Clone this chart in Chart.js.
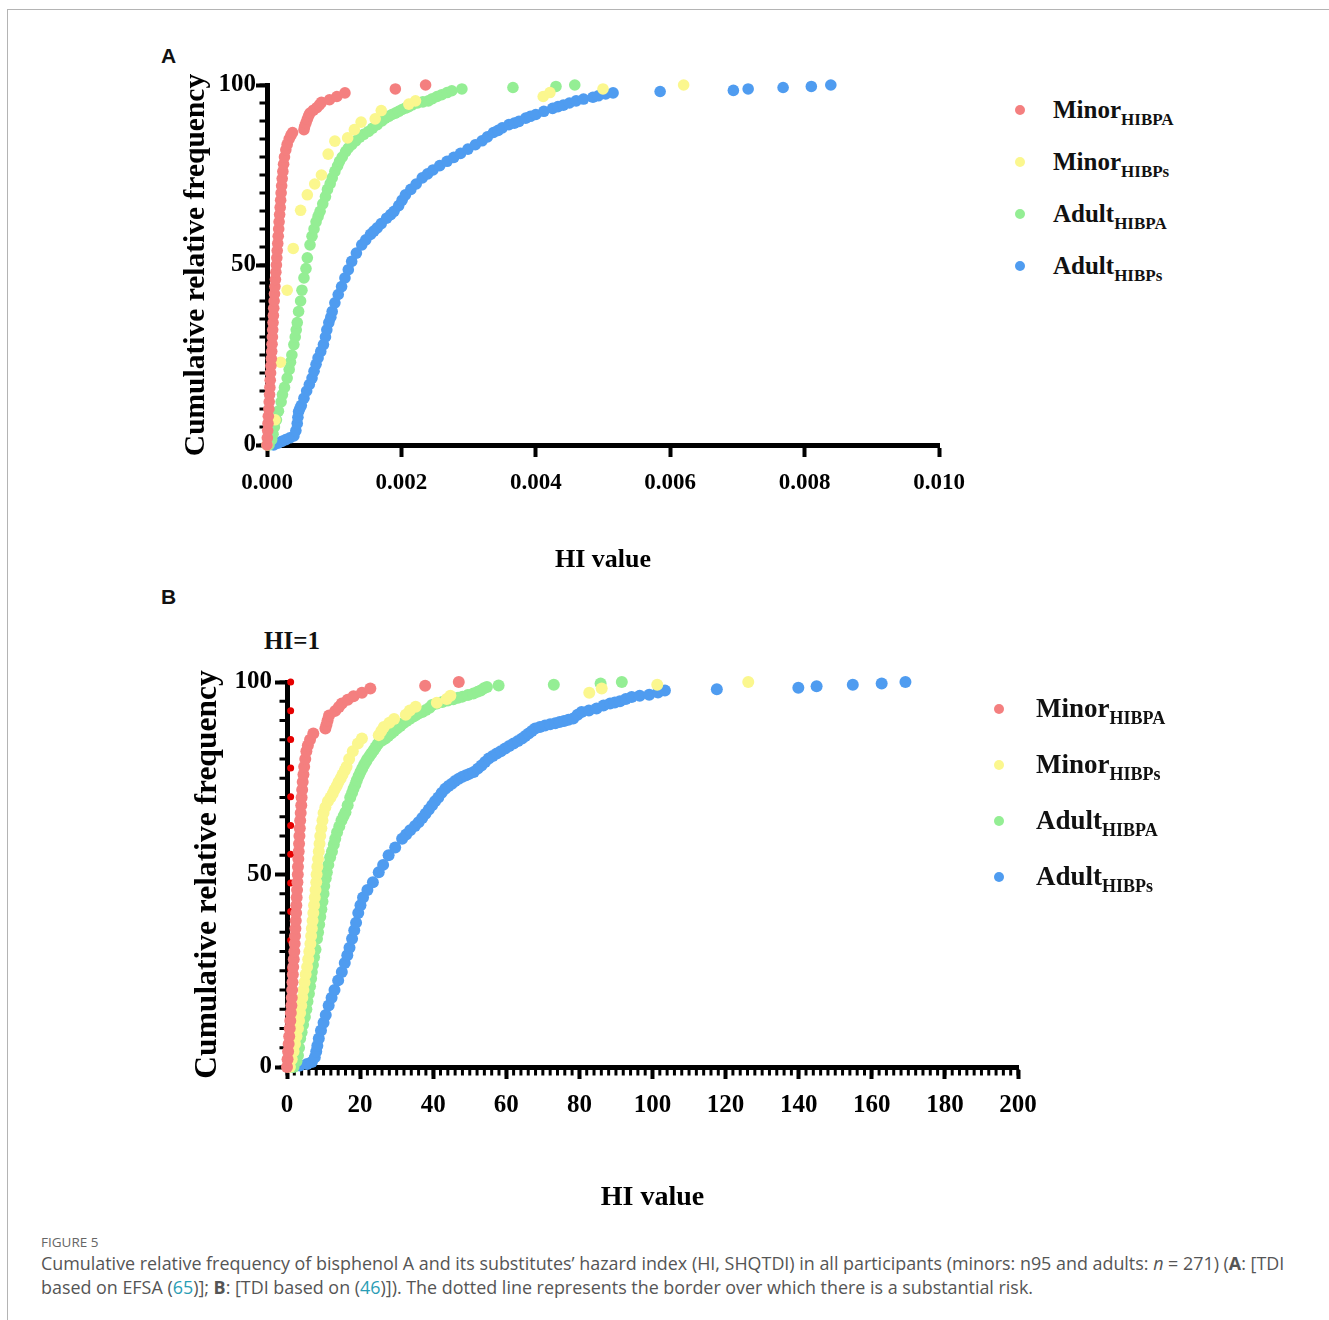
<!DOCTYPE html>
<html>
<head>
<meta charset="utf-8">
<script src="https://cdn.jsdelivr.net/npm/chart.js@4.4.1/dist/chart.umd.min.js"></script>
<style>
  body { margin: 0; background: #fff; width: 1329px; height: 1320px; position: relative; overflow: hidden; }
  .frame { position: absolute; left: 7px; top: 9px; width: 1340px; height: 1330px; border-top: 1px solid #b4b4b4; border-left: 1px solid #b4b4b4; }
  canvas { position: absolute; }
  .panel { position: absolute; font: bold 21px 'Liberation Sans', Arial, sans-serif; color: #111; }
  .serif { position: absolute; font-family: 'Liberation Serif', 'Times New Roman', serif; font-weight: bold; color: #111; white-space: nowrap; line-height: 1; }
  .dot { position: absolute; border-radius: 50%; }
  .sub { position: relative; }
  .capfig { position: absolute; left: 41px; top: 1233px; font: 13.5px 'Open Sans', sans-serif; color: #666; }
  .cap { position: absolute; left: 41px; top: 1251px; font: 17.9px/24px 'Open Sans', sans-serif; color: #555; white-space: nowrap; letter-spacing: 0; }
  .cap .ref { color: #2a9db5; }
</style>
</head>
<body>
<div class="frame"></div>
<div class="panel" style="left:161px;top:44px;">A</div>
<div class="panel" style="left:161px;top:585px;">B</div>
<div class="serif" style="left:264px;top:628px;font-size:25px;">HI=1</div>
<canvas id="chartA" width="830" height="530" style="left:150px;top:60px;"></canvas>
<canvas id="chartB" width="900" height="600" style="left:150px;top:620px;"></canvas>
<div id="legendA"></div>
<div id="legendB"></div>
<div class="capfig">FIGURE 5</div>
<div class="cap">Cumulative relative frequency of bisphenol A and its substitutes’ hazard index (HI, SHQTDI) in all participants (minors: n95 and adults: <i>n</i> = 271) (<b>A</b>: [TDI<br>based on EFSA (<span class="ref">65</span>)]; <b>B</b>: [TDI based on (<span class="ref">46</span>)]). The dotted line represents the border over which there is a substantial risk.</div>
<script>
const seriesNames = ['Minor', 'Minor', 'Adult', 'Adult'];
const seriesSubs = ['HIBPA', 'HIBPs', 'HIBPA', 'HIBPs'];
const seriesColors = ['#f47f7f', '#fbf78e', '#94ee94', '#4f9cf0'];

const xTicksA = [0, 0.002, 0.004, 0.006, 0.008, 0.010];
const xTicksB = [0, 20, 40, 60, 80, 100, 120, 140, 160, 180, 200];
const yTicks = [0, 50, 100];
const hiLimit = 1;

// panel A: HI values (x) and cumulative relative frequency (y)
const minorHibpaA = [[0,0],[0.000005,2],[0.00001,4],[0.000015,6],[0.00002,8],[0.000028,10],[0.000033,12],[0.000038,14],[0.000043,16],[0.000048,18],[0.000053,20],[0.000058,22],[0.000064,24],[0.00007,26],[0.000075,28],[0.00008,30],[0.000085,32],[0.00009,34],[0.000095,36],[0.0001,38],[0.000106,40],[0.000112,42],[0.000118,44],[0.000125,46],[0.000132,48],[0.00014,50],[0.000146,52],[0.000152,54],[0.00016,56],[0.000167,58],[0.000174,60],[0.00018,62],[0.000188,64],[0.000196,66],[0.000203,68],[0.00021,70],[0.000218,72],[0.000226,74],[0.000236,76],[0.000247,78],[0.00026,80],[0.00028,82],[0.0003,83.5],[0.00033,85],[0.000355,86],[0.00038,86.8],[0.00055,87.6],[0.00056,88.5],[0.00058,89.5],[0.0006,90.5],[0.00062,91.5],[0.00064,92.2],[0.00069,93],[0.00074,93.7],[0.00078,94.5],[0.00081,95.2],[0.00093,95.9],[0.00104,96.8],[0.00116,97.8],[0.00191,98.9],[0.00236,100]];
const minorHibpsA = [[0,0],[0.00012,7],[0.0002,23],[0.0003,43],[0.00039,54.6],[0.0005,65.2],[0.0006,69.5],[0.00071,72.5],[0.00081,75],[0.00091,80.8],[0.00101,84.4],[0.0012,85.3],[0.0013,87.6],[0.0014,89.7],[0.00161,90.6],[0.0017,92.9],[0.00211,94.7],[0.00221,95.6],[0.00411,96.8],[0.00421,97.9],[0.005,98.9],[0.0062,100]];
const adultHibpaA = [[0.00003,0],[0.00007,1.5],[0.00009,3],[0.00011,5],[0.00014,7],[0.00017,9.4],[0.00021,12],[0.00023,14],[0.00026,16],[0.0003,18.6],[0.00033,21],[0.00035,23],[0.00037,25],[0.0004,27.9],[0.00042,30],[0.000435,32],[0.00045,34],[0.00047,37.1],[0.0005,40],[0.00052,43],[0.00055,46.4],[0.00058,49],[0.0006,52],[0.00064,55.6],[0.00067,58],[0.0007,60],[0.00073,62],[0.00076,63.5],[0.00079,64.9],[0.00083,67],[0.00087,69],[0.0009,71],[0.00094,72.6],[0.00097,74.2],[0.00101,76],[0.00105,77.5],[0.00108,78.8],[0.00112,80],[0.00117,81.5],[0.00121,82.5],[0.00126,83.4],[0.00132,84.5],[0.00138,85.5],[0.00144,86.3],[0.00151,87.1],[0.00157,88],[0.00164,89],[0.00171,90],[0.00176,90.8],[0.00181,91.3],[0.00186,91.8],[0.00191,92.2],[0.00196,92.7],[0.00201,93.2],[0.00206,93.6],[0.00211,94],[0.00216,94.5],[0.00224,95],[0.00232,95.3],[0.0024,95.6],[0.00246,96.2],[0.00253,96.8],[0.0026,97.3],[0.00268,97.9],[0.00275,98.4],[0.0029,98.9],[0.00366,99.3],[0.0043,99.6],[0.00458,100]];
const adultHibpsA = [[0.0001,0],[0.00016,0.5],[0.00022,1],[0.00028,1.5],[0.00034,2],[0.0004,2.5],[0.00043,4],[0.00045,6],[0.00046,7.7],[0.00047,9.3],[0.00049,10.2],[0.00051,11],[0.00055,13],[0.00059,15],[0.00063,16.8],[0.00067,18.6],[0.0007,20.5],[0.00073,22.4],[0.00076,24.2],[0.0008,26],[0.00084,27.9],[0.00087,30],[0.00089,32],[0.00092,34],[0.00095,35.5],[0.00097,37.1],[0.00101,39.5],[0.00106,41.8],[0.00111,44],[0.00116,46.4],[0.00121,48.7],[0.00126,51],[0.00133,53.3],[0.00141,55.6],[0.00147,57],[0.00154,58.5],[0.00159,59.4],[0.00164,60.3],[0.0017,61.5],[0.00178,63],[0.00184,64],[0.00189,64.9],[0.00196,66.5],[0.00201,68],[0.00206,69.5],[0.00214,71],[0.00222,72.5],[0.00231,74.2],[0.00239,75.3],[0.00247,76.4],[0.00257,77.6],[0.00268,78.8],[0.00278,79.9],[0.00288,81],[0.00299,82.2],[0.0031,83.4],[0.0032,84.5],[0.00328,85.6],[0.00337,86.8],[0.00344,87.4],[0.0035,88.1],[0.0036,89],[0.00368,89.4],[0.00375,89.9],[0.00385,90.8],[0.00392,91.3],[0.004,91.8],[0.00412,92.7],[0.00425,93.5],[0.00433,94],[0.00441,94.4],[0.0045,95],[0.0046,95.6],[0.00471,96.1],[0.00485,96.6],[0.00493,97],[0.00504,97.5],[0.00515,97.8],[0.00585,98.2],[0.00694,98.5],[0.00716,98.9],[0.00768,99.3],[0.0081,99.6],[0.00839,100]];

// panel B
const minorHibpaB = [[0,0],[0.15,2],[0.3,4],[0.45,6],[0.6,8],[0.75,10],[0.9,12],[1.05,14],[1.2,16],[1.3,18],[1.4,20],[1.5,22],[1.6,24],[1.7,26],[1.85,28],[2,30],[2.1,32],[2.2,34],[2.3,36],[2.4,38],[2.5,40],[2.55,42],[2.65,44],[2.75,46],[2.85,48],[2.95,50],[3,52],[3.1,54],[3.2,56],[3.3,58],[3.4,60],[3.5,62],[3.6,64],[3.75,66],[3.9,68],[4,70],[4.15,72],[4.3,74],[4.5,76],[4.7,78],[5,80],[5.3,82],[5.7,83.5],[6.3,85],[7.2,86.6],[10.5,87.9],[10.8,88.9],[11.1,90],[11.5,91.3],[13.2,92.5],[14.2,93.5],[15,94.4],[16.6,95.4],[18.2,96.3],[20.5,97.2],[22.8,98.3],[37.8,99],[47,100]];
const minorHibpsB = [[0.8,0],[1.3,2],[1.8,4],[2.2,6],[2.6,8],[3,10],[3.3,12],[3.6,14],[3.9,16],[4.2,18],[4.5,20],[4.8,22],[5.1,24],[5.5,26],[5.8,28],[6.1,30],[6.4,32],[6.6,34],[6.8,36],[7,38],[7.2,40],[7.4,42],[7.6,44],[7.8,46],[8,48],[8.1,50],[8.3,52],[8.5,54],[8.7,56],[8.9,58],[9.1,60],[9.4,62],[9.7,64],[10,66],[10.5,67.5],[11.2,69],[11.9,70],[12.5,71],[13,72],[13.6,73],[14.1,74],[14.7,75],[15.2,76],[15.8,77],[16.3,78],[17,80],[18,82],[19.4,84],[20.5,85.3],[25.1,86.2],[25.8,87.3],[26.5,88.3],[28,89.4],[29.3,90.4],[32.5,91.5],[33.6,92.6],[35.2,93.6],[41,94.6],[43.7,95.6],[44.7,96.4],[82.7,97.2],[86.1,98.3],[101.3,99.3],[126.2,100]];
const adultHibpaB = [[1.8,0],[2.6,1.5],[3,3],[3.3,5],[3.6,7.4],[4,9],[4.4,11],[4.9,13],[5.3,15],[5.6,17],[6,19],[6.3,21],[6.6,23],[6.8,24.7],[7.1,26.5],[7.4,28.5],[7.8,30.5],[8.2,33.3],[8.5,35],[8.8,37],[9.1,39],[9.4,41],[9.7,43],[10,45],[10.2,47],[10.6,49],[10.9,50.6],[11.3,52.5],[11.8,54.5],[12.3,56],[12.8,57.8],[13.2,59.3],[13.7,61],[14.3,62.5],[14.9,64],[15.5,65.2],[16,66.2],[16.6,68],[17.3,70],[17.8,71.2],[18.2,72.3],[18.7,73.4],[19.1,74.5],[19.6,75.6],[20.1,76.6],[20.6,77.6],[21.1,78.5],[21.6,79.3],[22,80],[22.6,80.8],[23.1,81.5],[23.7,82.3],[24.2,83],[24.7,83.7],[25.1,84.2],[26,84.8],[26.9,85.3],[27.7,86],[28.5,86.6],[29.3,87.3],[30.1,87.9],[31,88.6],[31.8,89.3],[32.7,89.9],[33.5,90.4],[34.3,90.9],[35.1,91.3],[36,91.8],[37,92.2],[38,92.7],[39,93.3],[39.7,94],[41,94.4],[42.5,94.8],[44,95.2],[45.5,95.5],[46.8,95.9],[48,96.2],[49.5,96.6],[51,97],[52.2,97.5],[53,97.8],[53.9,98.4],[54.7,98.7],[57.9,99.1],[73,99.3],[85.8,99.6],[91.6,100]];
const adultHibpsB = [[1.4,0],[3.5,0.4],[5.5,0.8],[6.8,1.3],[7.6,2.5],[8,4],[8.3,5.5],[8.7,7.4],[9.3,9.5],[10,11.5],[10.6,13.5],[11.4,16],[12.2,18],[13,20],[14,22.5],[15,24.7],[15.8,27],[16.5,29],[17.1,31],[17.8,33.3],[18.4,35.5],[18.9,37.5],[19.5,40],[20.1,42],[20.8,44],[22,46],[23.5,48],[25.1,50.6],[26.3,52.5],[27.8,55],[29.6,57],[31.5,59.3],[32.6,60.4],[33.7,61.5],[35,62.6],[36,63.6],[37,64.7],[37.9,65.8],[38.8,66.9],[39.7,68],[40.5,69],[41.4,70],[42.3,71.2],[43.3,72.3],[44.2,73],[45.1,73.6],[46,74.3],[47,74.9],[48,75.4],[49,75.8],[50,76.2],[51.1,76.6],[52.2,77.5],[53.2,78.3],[54.2,79.2],[55.2,80.1],[56.3,80.8],[57.4,81.4],[58.5,82],[59.7,82.7],[60.8,83.4],[62,84],[63.2,84.7],[64.3,85.3],[65.2,86],[66.1,86.6],[67,87.3],[67.9,87.9],[69.2,88.3],[70.6,88.7],[72,89],[73.4,89.3],[74.6,89.6],[75.8,89.9],[77,90.2],[78.3,90.5],[79.5,91.5],[80.6,92.2],[82.6,92.6],[84.7,93.1],[86.6,93.9],[88.4,94.4],[89.7,94.7],[91.1,95],[92.7,95.6],[94.3,96.1],[96.5,96.4],[99.1,96.7],[101.5,97.3],[103.4,97.8],[117.6,98.1],[139.9,98.5],[144.9,98.9],[154.8,99.3],[162.7,99.6],[169.2,100]];

const serif = "'Liberation Serif', 'Times New Roman', serif";

// short ticks every few units, drawn off the library scales
const minorTicks = {
    id: 'minorTicks',
    beforeDatasetsDraw(chart, args, opts) {
        const ctx = chart.ctx;
        const area = chart.chartArea;
        ctx.save();
        ctx.strokeStyle = '#000';
        ctx.lineWidth = 3;
        if (opts.yStep) {
            const ys = chart.scales.y;
            for (let v = ys.min; v <= ys.max + 1e-9; v += opts.yStep) {
                const p = ys.getPixelForValue(v);
                ctx.beginPath();
                ctx.moveTo(area.left - 2, p);
                ctx.lineTo(area.left - 2.5 - opts.yLen, p);
                ctx.stroke();
            }
        }
        if (opts.xStep) {
            const xs = chart.scales.x;
            for (let v = xs.min; v <= xs.max + 1e-9; v += opts.xStep) {
                const p = xs.getPixelForValue(v);
                ctx.beginPath();
                ctx.moveTo(p, area.bottom + 2);
                ctx.lineTo(p, area.bottom + 2.5 + opts.xLen);
                ctx.stroke();
            }
        }
        ctx.restore();
    }
};

function seriesDatasets(list, radius) {
    return list.map((pts, i) => ({
        type: 'scatter',
        data: pts.map(p => ({ x: p[0], y: p[1] })),
        backgroundColor: seriesColors[i],
        borderWidth: 0,
        pointRadius: radius,
        pointHoverRadius: radius,
        clip: false,
        order: i
    }));
}

function makeChart(canvasId, cfg) {
    const ctx = document.getElementById(canvasId).getContext('2d');
    return new Chart(ctx, {
        type: 'scatter',
        data: { datasets: cfg.datasets },
        plugins: [minorTicks],
        options: {
            responsive: false,
            animation: false,
            devicePixelRatio: 1,
            layout: { padding: cfg.padding },
            plugins: {
                legend: { display: false },
                tooltip: { enabled: false },
                minorTicks: cfg.minor
            },
            scales: {
                x: {
                    type: 'linear',
                    min: cfg.xTicks[0],
                    max: cfg.xTicks[cfg.xTicks.length - 1],
                    afterBuildTicks: (scale) => { scale.ticks = cfg.xTicks.map(v => ({ value: v })); },
                    afterFit: (scale) => { scale.height = cfg.xHeight; },
                    border: { display: true, width: 5, color: '#000' },
                    grid: { drawOnChartArea: false, drawTicks: true, tickLength: 12, tickWidth: 4, color: '#000' },
                    ticks: {
                        color: '#000',
                        padding: cfg.xTickPad,
                        maxRotation: 0,
                        autoSkip: false,
                        font: { family: serif, weight: 'bold', size: cfg.xTickSize },
                        callback: cfg.xFormat
                    },
                    title: {
                        display: true,
                        text: 'HI value',
                        color: '#000',
                        font: { family: serif, weight: 'bold', size: cfg.xTitleSize },
                        padding: { top: 0, bottom: cfg.xTitlePad }
                    }
                },
                y: {
                    type: 'linear',
                    min: 0,
                    max: 100,
                    afterBuildTicks: (scale) => { scale.ticks = yTicks.map(v => ({ value: v })); },
                    afterFit: (scale) => { scale.width = cfg.yWidth; },
                    border: { display: true, width: 5, color: '#000' },
                    grid: { drawOnChartArea: false, drawTicks: true, tickLength: cfg.yTickLen, tickWidth: 4, color: '#000' },
                    ticks: {
                        color: '#000',
                        padding: cfg.yTickPad,
                        font: { family: serif, weight: 'bold', size: 25 }
                    },
                    title: {
                        display: true,
                        text: 'Cumulative relative frequency',
                        color: '#000',
                        font: { family: serif, weight: 'bold', size: cfg.yTitleSize },
                        padding: { top: cfg.yTitlePad, bottom: 0 }
                    }
                }
            }
        }
    });
}

makeChart('chartA', {
    datasets: seriesDatasets([minorHibpaA, minorHibpsA, adultHibpaA, adultHibpsA], 5.8),
    padding: { left: 0, top: 25, right: 41, bottom: 0 },
    xTicks: xTicksA,
    xFormat: (v) => Number(v).toFixed(3),
    xHeight: 145, xTickPad: 12, xTickSize: 23, xTitleSize: 26, xTitlePad: 14,
    yWidth: 117, yTickLen: 11, yTickPad: 0, yTitleSize: 29.5, yTitlePad: 29,
    minor: { yStep: 5, yLen: 5 }
});

const hiLine = {
    type: 'line',
    data: [{ x: hiLimit, y: 100 }, { x: hiLimit, y: 0 }],
    borderColor: '#e60000',
    borderWidth: 7,
    borderDash: [0, 28.7],
    borderCapStyle: 'round',
    pointRadius: 0,
    clip: false,
    order: 10
};

makeChart('chartB', {
    datasets: seriesDatasets([minorHibpaB, minorHibpsB, adultHibpaB, adultHibpsB], 6).concat([hiLine]),
    padding: { left: 0, top: 62, right: 32, bottom: 0 },
    xTicks: xTicksB,
    xFormat: (v) => String(v),
    xHeight: 153, xTickPad: 12, xTickSize: 25, xTitleSize: 28, xTitlePad: 5,
    yWidth: 137, yTickLen: 12, yTickPad: 3, yTitleSize: 31.5, yTitlePad: 39,
    minor: { yStep: 5, yLen: 5, xStep: 2, xLen: 6 }
});

// legends with subscripts
function buildLegend(holderId, opt) {
    const holder = document.getElementById(holderId);
    seriesNames.forEach((name, i) => {
        const cy = opt.top + opt.gap * i;
        const dot = document.createElement('div');
        dot.className = 'dot';
        dot.style.cssText = `left:${opt.dotX - opt.dotR}px;top:${cy - opt.dotR}px;width:${opt.dotR * 2}px;height:${opt.dotR * 2}px;background:${seriesColors[i]};`;
        holder.appendChild(dot);
        const label = document.createElement('div');
        label.className = 'serif';
        label.style.cssText = `left:${opt.textX}px;top:${cy + opt.baseShift - Math.round(opt.size * 0.84)}px;font-size:${opt.size}px;`;
        label.innerHTML = `${name}<span class="sub" style="font-size:${opt.subSize}px;top:${opt.subDrop}px;">${seriesSubs[i]}</span>`;
        holder.appendChild(label);
    });
}

buildLegend('legendA', { top: 110, gap: 52, dotX: 1020, dotR: 5, textX: 1053, size: 25, subSize: 17, subDrop: 7, baseShift: 8 });
buildLegend('legendB', { top: 709, gap: 56, dotX: 999, dotR: 5, textX: 1036, size: 27, subSize: 18, subDrop: 7, baseShift: 9 });
</script>
</body>
</html>
